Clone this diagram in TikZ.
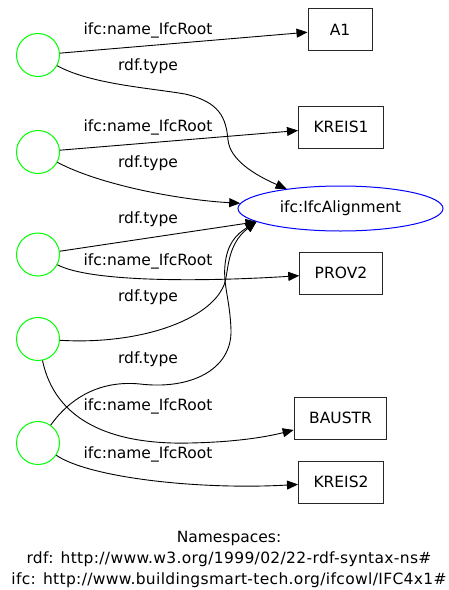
\documentclass[tikz,border=0pt]{standalone}
\usepackage{fontspec}
\setmainfont{DejaVu Sans}
\usetikzlibrary{shapes.geometric,arrows.meta}
\definecolor{gvgreen}{RGB}{0,255,0}
\definecolor{gvblue}{RGB}{0,0,255}
\begin{document}
\begin{tikzpicture}[x=1pt,y=-1pt,
  every node/.style={font=\fontsize{15.5}{18}\selectfont},
  res/.style={circle,draw=gvgreen,line width=1pt,minimum size=43pt,inner sep=0pt},
  lit/.style={rectangle,draw=black!85,line width=1pt,minimum width=64pt,minimum height=42pt,inner xsep=15pt,inner ysep=0pt},
  cls/.style={ellipse,draw=gvblue,line width=1pt,minimum width=205pt,minimum height=45pt,inner sep=0pt},
  lbl/.style={anchor=base,inner sep=0pt},
  wide/.style={font=\fontsize{15.5}{18}\selectfont\addfontfeature{LetterSpace=2.2}},
  edge/.style={line width=0.9pt,-{Triangle[length=11pt,width=9pt]}},
]
\useasboundingbox (0,0) rectangle (449,590);
% resource nodes
\node[res] (r1) at (38,55) {};
\node[res] (r2) at (38,152) {};
\node[res] (r3) at (38,254.5) {};
\node[res] (r4) at (38,339) {};
\node[res] (r5) at (38,443) {};
% literals and class
\node[lit] (a1) at (340,29.5) {A1};
\node[lit] (k1) at (341,127) {KREIS1};
\node[cls] (al) at (340.5,208.5) {ifc:IfcAlignment};
\node[lit] (p2) at (341,273) {PROV2};
\node[lit] (ba) at (340.5,418) {BAUSTR};
\node[lit] (k2) at (341,482) {KREIS2};
% edges
\draw[edge] (r1) -- (a1);
\draw[edge] (r1) .. controls (90,84) and (150,88) .. (185,94) .. controls (220,102) and (226,118) .. (228,140) .. controls (230,160) and (255,175) .. (al.160);
\draw[edge] (r2) -- (k1);
\draw[edge] (r2) .. controls (100,185) and (180,200) .. (al.177);
\draw[edge] (r3) -- (al.-171);
\draw[edge] (r3) .. controls (90,282) and (200,282) .. (p2);
\draw[edge] (r4) .. controls (140,345) and (210,320) .. (224,285) .. controls (229,272) and (226,245) .. (al.-171);
\draw[edge] (r4) .. controls (55,420) and (110,445) .. (190,443) .. controls (240,442) and (270,436) .. (ba);
\draw[edge] (r5) .. controls (70,398) and (100,380) .. (140,384) .. controls (190,390) and (232,370) .. (231,330) .. controls (230,300) and (223,285) .. (225,265) .. controls (227,245) and (235,235) .. (al.-171);
\draw[edge] (r5) .. controls (90,478) and (200,490) .. (k2);
% edge labels
\node[lbl] (l1) at (148,34.5) {ifc:name\_IfcRoot};
\node[lbl] (l2) at (148,70) {rdf.type};
\node[lbl] (l3) at (148,131.5) {ifc:name\_IfcRoot};
\node[lbl] (l4) at (148,167.5) {rdf.type};
\node[lbl] (l5) at (148,223.5) {rdf.type};
\node[lbl] (l6) at (148,265) {ifc:name\_IfcRoot};
\node[lbl] (l7) at (148,301) {rdf.type};
\node[lbl] (l8) at (148,363.5) {rdf.type};
\node[lbl] (l9) at (148,410) {ifc:name\_IfcRoot};
\node[lbl] (l10) at (148,458.5) {ifc:name\_IfcRoot};
% namespaces
\node[lbl] (ns) at (229,542) {Namespaces:};
\node[lbl,wide] (nr) at (229,563.5) {rdf: http://www.w3.org/1999/02/22-rdf-syntax-ns\#};
\node[lbl,wide] (ni) at (229,584) {ifc: http://www.buildingsmart-tech.org/ifcowl/IFC4x1\#};
\end{tikzpicture}
\end{document}
